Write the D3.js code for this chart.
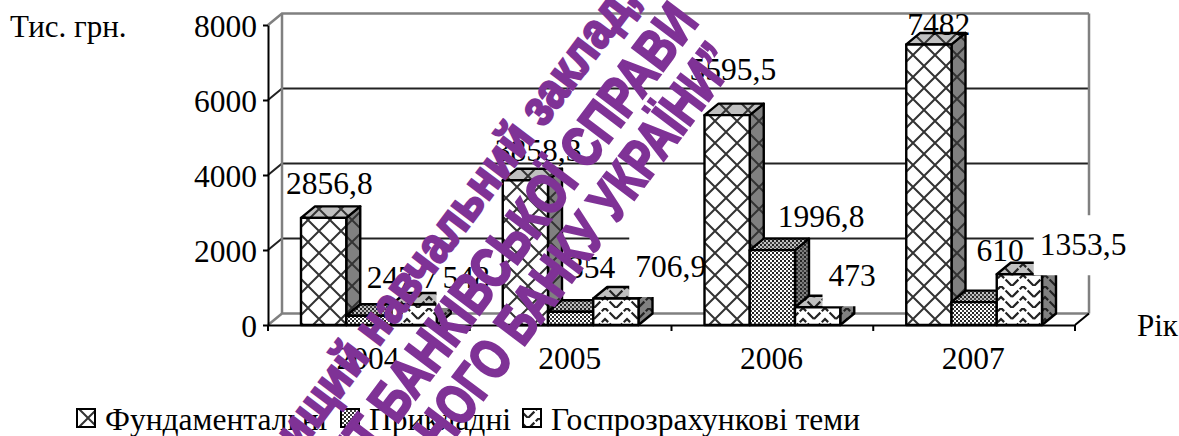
<!DOCTYPE html>
<html>
<head>
<meta charset="utf-8">
<script src="https://cdnjs.cloudflare.com/ajax/libs/d3/7.8.5/d3.min.js"></script>
<style>
html, body { margin: 0; padding: 0; background: #fff; overflow: hidden; }
text { font-family: "Liberation Serif", serif; fill: #000; }
</style>
</head>
<body>
<div id="chart"></div>
<script>
var years = ["2004", "2005", "2006", "2007"];
var seriesNames = ["Фундаментальні", "Прикладні", "Госпрозрахункові теми"];
var fundamental = [2856.8, 3858.3, 5595.5, 7482];
var applied = [247.7, 354, 1996.8, 610];
var contract = [548, 706.9, 473, 1353.5];
var yTicks = [0, 2000, 4000, 6000, 8000];
var stamp = ["Вищий навчальний заклад,", "УНІВЕРСИТЕТ БАНКІВСЬКОЇ СПРАВИ", "НАЦІОНАЛЬНОГО БАНКУ УКРАЇНИ”"];

// hand placed data labels in the original, offset from the bar's front top left corner
var labelDx = [[-15, 20.5, 51], [-8, 20, 42], [-15, 28, 33.5], [1, 25, 43]];
var labelDy = [[-24, -27.7, -16.5], [-19, -33.7, -21.5], [-35, -23, -21], [-9.4, -41, -19]];

var values = [fundamental, applied, contract];
var w = 1179, h = 436;
var plotLeft = 268, plotRight = 1075, plotTop = 25, plotBottom = 325;
var depthX = 14, depthY = 11.5;
var fontSize = 31.5;

var svg = d3.select("#chart").append("svg").attr("width", w).attr("height", h).style("display", "block");
var defs = svg.append("defs");

var x = d3.scaleBand().domain(years).range([plotLeft, plotRight]);
var sub = d3.scaleBand().domain([0, 1, 2]).range([33, x.bandwidth() - 33]);
var y = d3.scaleLinear().domain([0, 8000]).range([plotBottom, plotTop]);

function makePattern(id, bg, kind) {
  var size = kind == "dots" ? 4 : 22;
  var p = defs.append("pattern").attr("id", id).attr("patternUnits", "userSpaceOnUse")
    .attr("width", size).attr("height", size);
  p.append("rect").attr("width", size).attr("height", size).attr("fill", bg);
  if (kind == "cross") {
    p.append("path").attr("d", "M0 0L22 22M22 0L0 22").attr("stroke", "#333").attr("stroke-width", 2).attr("fill", "none");
  } else if (kind == "dots") {
    p.append("rect").attr("width", 2).attr("height", 2).attr("fill", "#222");
    p.append("rect").attr("x", 2).attr("y", 2).attr("width", 2).attr("height", 2).attr("fill", "#444");
  } else {
    // stacked chevrons with small breaks, close to the weave of the original
    p.append("path").attr("d", "M0 11L11 0L22 11M0 22L11 11L22 22")
      .attr("stroke", "#222").attr("stroke-width", 2.2).attr("stroke-dasharray", "9 2").attr("fill", "none");
  }
}

var kinds = ["cross", "dots", "zig"];
kinds.forEach(function(k, i) {
  makePattern("front" + i, "#fff", k);
  makePattern("side" + i, "#808080", k);
  makePattern("topf" + i, "#c0c0c0", k);
});

function pts(a) {
  return a.map(function(p) { return p.join(","); }).join(" ");
}

// walls
var walls = svg.append("g").attr("fill", "none");
yTicks.forEach(function(t) {
  var edge = t == 0 || t == 8000;
  walls.append("polyline")
    .attr("points", pts([[plotLeft, y(t)], [plotLeft + depthX, y(t) - depthY], [plotRight + depthX, y(t) - depthY]]))
    .attr("stroke", edge ? "#808080" : "#222")
    .attr("stroke-width", edge ? 2.5 : 2);
});
walls.append("polyline")
  .attr("points", pts([[plotLeft + depthX, y(0) - depthY], [plotLeft + depthX, y(8000) - depthY]]))
  .attr("stroke", "#808080").attr("stroke-width", 2.5);
walls.append("polyline")
  .attr("points", pts([[plotRight + depthX, y(0) - depthY], [plotRight + depthX, y(8000) - depthY]]))
  .attr("stroke", "#808080").attr("stroke-width", 2.5);
walls.append("line")
  .attr("x1", plotRight).attr("y1", y(0)).attr("x2", plotRight + depthX).attr("y2", y(0) - depthY)
  .attr("stroke", "#000").attr("stroke-width", 2);

// bars, one year at a time so the label masks fall between them
var labels = [];
years.forEach(function(yr, c) {
  var g = svg.append("g").attr("stroke", "#000").attr("stroke-width", 2.4).attr("stroke-linejoin", "round");
  values.forEach(function(vals, s) {
    var x0 = x(yr) + sub(s), x1 = x0 + sub.bandwidth(), yt = y(vals[c]), yb = y(0);
    g.append("polygon").attr("fill", "url(#side" + s + ")")
      .attr("points", pts([[x1, yb], [x1 + depthX, yb - depthY], [x1 + depthX, yt - depthY], [x1, yt]]));
    g.append("polygon").attr("fill", "url(#topf" + s + ")")
      .attr("points", pts([[x0, yt], [x0 + depthX, yt - depthY], [x1 + depthX, yt - depthY], [x1, yt]]));
    g.append("rect").attr("fill", "url(#front" + s + ")")
      .attr("x", x0).attr("y", yt).attr("width", x1 - x0).attr("height", yb - yt);

    var lab = {
      x: x0 + labelDx[c][s],
      y: yt + labelDy[c][s],
      text: String(vals[c]).replace(".", ",")
    };
    labels.push(lab);
    if (s == 2) {
      // third series labels sit on an opaque white box in the original
      var probe = svg.append("text").attr("font-size", fontSize).text(lab.text);
      var tw = probe.node().getComputedTextLength();
      probe.remove();
      svg.append("rect").attr("fill", "#fff")
        .attr("x", lab.x - 6).attr("y", lab.y - 40).attr("width", tw + 10).attr("height", 60);
    }
  });
});

// axes
var yAxis = d3.axisLeft(y).tickValues(yTicks).tickSize(5).tickSizeOuter(0).tickPadding(6).tickFormat(d3.format("d"));
var ya = svg.append("g").attr("transform", "translate(" + plotLeft + ",0)").call(yAxis);
ya.selectAll("text").attr("font-size", fontSize).attr("font-family", "Liberation Serif").attr("fill", "#000").attr("dy", "0.36em");
ya.selectAll("line,path").attr("stroke", "#000").attr("stroke-width", 2);

var xAxis = d3.axisBottom(x).tickSize(0).tickSizeOuter(0).tickPadding(22);
var xa = svg.append("g").attr("transform", "translate(-1," + plotBottom + ")").call(xAxis);
xa.selectAll("text").attr("font-size", fontSize).attr("font-family", "Liberation Serif").attr("fill", "#000");
xa.selectAll("path").attr("stroke", "#000").attr("stroke-width", 2).attr("transform", "translate(1,0)");

svg.selectAll(".xtick").data(years.concat([null])).enter().append("line").attr("class", "xtick")
  .attr("x1", function(d) { return d ? x(d) : plotRight; })
  .attr("x2", function(d) { return d ? x(d) : plotRight; })
  .attr("y1", plotBottom).attr("y2", plotBottom + 6)
  .attr("stroke", "#000").attr("stroke-width", 2);

// data labels
svg.append("g").selectAll("text").data(labels).enter().append("text")
  .attr("x", function(d) { return d.x; })
  .attr("y", function(d) { return d.y; })
  .attr("font-size", fontSize)
  .text(function(d) { return d.text; });

svg.append("text").attr("x", 10).attr("y", 37).attr("font-size", 31).text("Тис. грн.");
svg.append("text").attr("x", 1137).attr("y", 336).attr("font-size", 31).text("Рік");

// legend
var legendX = [77, 341, 523];
seriesNames.forEach(function(name, i) {
  svg.append("rect").attr("x", legendX[i]).attr("y", 409).attr("width", 18).attr("height", 18)
    .attr("fill", "url(#front" + i + ")").attr("stroke", "#000").attr("stroke-width", 2);
  svg.append("text").attr("x", legendX[i] + 28).attr("y", 430).attr("font-size", 31.5).text(name);
});

// stamp across the page, each line anchored at its far end
var stampEndX = [640, 700, 738];
var stampEndY = [0, 22, 62];
var stampSize = [50, 56, 56];
var stampScale = [0.88, 0.8, 0.76];
stamp.forEach(function(s, i) {
  svg.append("text")
    .attr("transform", "translate(" + stampEndX[i] + "," + stampEndY[i] + ") rotate(-53) scale(" + stampScale[i] + ",1)")
    .attr("text-anchor", "end")
    .style("font-family", "'Liberation Sans',sans-serif")
    .style("font-weight", "bold").style("fill", "#7f3296")
    .style("stroke", "#7f3296").style("stroke-width", 2.5)
    .attr("font-size", stampSize[i]).text(s);
});
</script>
</body>
</html>
